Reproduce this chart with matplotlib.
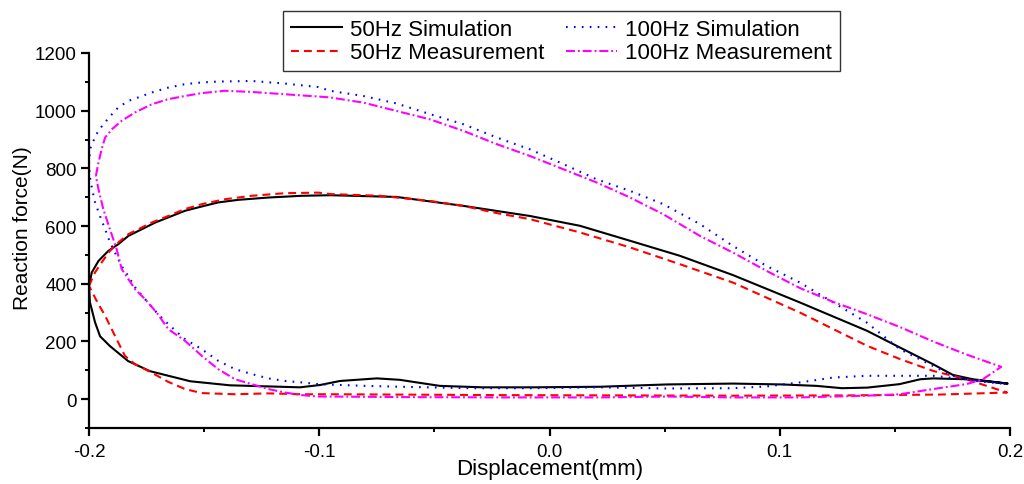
import matplotlib
matplotlib.use("Agg")
import matplotlib.pyplot as plt
from matplotlib.ticker import MultipleLocator, FormatStrFormatter

plt.rcParams['font.family'] = ['Liberation Sans', 'DejaVu Sans']

# ---- data (closed loops: loading branch then return branch) ----
sim50_x = [-0.2, -0.1988, -0.1959, -0.1916, -0.1873, -0.1829, -0.1771, -0.1713, -0.1656, -0.1583, -0.151,
           -0.1439, -0.1351, -0.122, -0.1076, -0.0953, -0.0664, -0.0374, -0.0085, 0.0132, 0.035, 0.0566,
           0.0797, 0.1088, 0.1379, 0.1522, 0.1666, 0.1752, 0.1839, 0.199,
           0.181, 0.1666, 0.161, 0.152, 0.138, 0.127, 0.116, 0.101, 0.0797, 0.051, 0.022,
           -0.0071, -0.029, -0.0476, -0.0576, -0.065, -0.075, -0.091, -0.0997, -0.1084, -0.1127,
           -0.1388, -0.156, -0.1735, -0.183, -0.1909, -0.1952, -0.1974, -0.1996, -0.2]
sim50_y = [393, 439, 479, 514, 537, 566, 589, 612, 630, 653, 668,
           682, 691, 699, 705, 707, 701, 670, 635, 601, 549, 497,
           430, 335, 237, 179, 121, 84, 69, 54,
           69, 72, 69, 52, 40, 38, 46, 51, 54, 51, 43,
           41, 41, 46, 58, 67, 72, 63, 49, 41, 42,
           48, 62, 97, 132, 184, 218, 267, 336, 393]

meas50_x = [-0.2, -0.1974, -0.1945, -0.1909, -0.1873, -0.1829, -0.1786, -0.1728, -0.1656, -0.1583, -0.151,
            -0.141, -0.1293, -0.115, -0.1004, -0.0953, -0.0736, -0.0519, -0.0374, -0.0229, -0.0085,
            0.0132, 0.035, 0.0566, 0.0797, 0.1088, 0.1379, 0.1522, 0.1666, 0.181, 0.1987,
            0.17, 0.13, 0.08, 0.03, -0.02, -0.07, -0.0932, -0.1076, -0.1223, -0.1366, -0.151, -0.1583,
            -0.1656, -0.1728, -0.18, -0.1844, -0.1887, -0.193, -0.1967, -0.2]
meas50_y = [393, 439, 474, 514, 543, 572, 589, 612, 635, 659, 676,
            693, 705, 714, 716, 711, 705, 687, 670, 645, 624,
            578, 526, 468, 404, 300, 185, 139, 98, 69, 23,
            16, 13, 12, 13, 14, 16, 17, 17, 20, 17, 21, 35,
            60, 92, 121, 150, 219, 289, 341, 393]

sim100_x = [-0.2, -0.1996, -0.1981, -0.196, -0.193, -0.19, -0.1873, -0.1829, -0.1786, -0.1728, -0.1656,
            -0.1583, -0.151, -0.1439, -0.1293, -0.1149, -0.1004, -0.0953, -0.0809, -0.0664, -0.0519,
            -0.0374, -0.0229, -0.0085, 0.006, 0.0205, 0.035, 0.0494, 0.0653, 0.0797, 0.0942, 0.1088,
            0.1233, 0.1377, 0.1522, 0.1666, 0.1753, 0.184, 0.1985,
            0.181, 0.1666, 0.1522, 0.1377, 0.1233, 0.1088, 0.0942, 0.0797, 0.0508, 0.0219,
            -0.0071, -0.035, -0.065, -0.08, -0.0939, -0.1004, -0.1076, -0.1149, -0.1221, -0.1293,
            -0.1366, -0.1439, -0.151, -0.1583, -0.1656, -0.1706, -0.1757, -0.18, -0.1829, -0.1858,
            -0.188, -0.1909, -0.193, -0.1952, -0.1974, -0.1988, -0.1996, -0.2]
sim100_y = [815, 866, 895, 930, 960, 988, 1011, 1034, 1046, 1063, 1080,
            1092, 1098, 1101, 1103, 1094, 1082, 1069, 1051, 1025, 988,
            953, 907, 866, 815, 762, 722, 676, 607, 531, 462, 404,
            335, 266, 173, 115, 81, 64, 52,
            69, 81, 81, 81, 75, 58, 44, 38, 37, 41,
            38, 38, 43, 46, 50, 52, 58, 63, 72, 87,
            104, 133, 173, 208, 260, 300, 347, 388, 426, 461,
            496, 544, 589, 634, 683, 735, 770, 815]

meas100_x = [-0.197, -0.1959, -0.1945, -0.193, -0.19, -0.1858, -0.18, -0.1728, -0.1656, -0.1583, -0.151,
             -0.141, -0.1293, -0.1149, -0.1004, -0.0953, -0.0809, -0.0664, -0.0519, -0.0374, -0.0229,
             -0.0085, 0.006, 0.0205, 0.035, 0.0494, 0.0566, 0.0653, 0.0797, 0.0942, 0.1088, 0.1233,
             0.1377, 0.1522, 0.1666, 0.181, 0.1962,
             0.1882, 0.181, 0.1666, 0.1522, 0.1377, 0.1233, 0.1088, 0.0797, 0.0508, 0.0219,
             -0.02, -0.06, -0.0939, -0.1004, -0.1076, -0.1149, -0.1221, -0.1293, -0.1366, -0.1439,
             -0.151, -0.1583, -0.1656, -0.1706, -0.1757, -0.18, -0.1858, -0.188, -0.1909, -0.1938,
             -0.1959, -0.197]
meas100_y = [774, 820, 867, 907, 936, 965, 994, 1022, 1040, 1051, 1061,
             1069, 1065, 1057, 1049, 1046, 1028, 999, 970, 930, 884,
             843, 797, 751, 699, 641, 607, 566, 508, 445, 385, 337,
             295, 250, 200, 155, 112,
             69, 52, 35, 17, 12, 9, 6, 6, 9, 6,
             6, 7, 9, 9, 14, 23, 35, 52, 69, 104,
             150, 202, 243, 300, 347, 381, 451, 520, 589, 659,
             728, 774]

labels = ["50Hz Simulation", "50Hz Measurement", "100Hz Simulation", "100Hz Measurement"]

# ---- figure ----
fig = plt.figure(figsize=(10.24, 4.85), dpi=100)
ax = fig.add_axes([89/1024, 1 - 429/485, (1010 - 89)/1024, (429 - 54)/485])

lw = 1.5
l1, = ax.plot(sim50_x, sim50_y, color='black', lw=lw, label=labels[0])
l2, = ax.plot(meas50_x, meas50_y, color='#ff0000', lw=lw, dashes=(3.8, 2.4), label=labels[1])
l3, = ax.plot(sim100_x, sim100_y, color='#0000ff', lw=lw, dashes=(0.8, 3.0), label=labels[2])
l4, = ax.plot(meas100_x, meas100_y, color='#ff00ff', lw=lw, dashes=(4.3, 1.4, 0.9, 1.4), label=labels[3])

ax.set_xlim(-0.2, 0.2)
ax.set_ylim(-100, 1200)
ax.xaxis.set_major_locator(MultipleLocator(0.1))
ax.xaxis.set_minor_locator(MultipleLocator(0.05))
ax.yaxis.set_minor_locator(MultipleLocator(100))
ax.set_yticks([0, 200, 400, 600, 800, 1000, 1200])
ax.xaxis.set_major_formatter(FormatStrFormatter('%.1f'))

for s in ['top', 'right']:
    ax.spines[s].set_visible(False)
for s in ['left', 'bottom']:
    ax.spines[s].set_linewidth(1.6)

ax.tick_params(which='major', direction='out', length=6, width=1.6, labelsize=13.5)
ax.tick_params(axis='x', which='major', pad=4.5)
ax.tick_params(axis='y', which='major', pad=3)
ax.tick_params(which='minor', direction='out', length=3.2, width=1.4)

ax.set_xlabel("Displacement(mm)", fontsize=16, labelpad=-1)
ax.set_ylabel("Reaction force(N)", fontsize=15)
ax.yaxis.set_label_coords((32 - 89) / 921, (429 - 228) / 375)

leg = fig.legend(handles=[l1, l2, l3, l4], loc='upper left',
                 bbox_to_anchor=(283/1024, 1 - 12/485), ncol=2, fontsize=16,
                 frameon=True, fancybox=False, edgecolor='#333333', framealpha=1,
                 handlelength=2.3, handletextpad=0.35, columnspacing=1.0,
                 borderpad=0.35, labelspacing=0.12, borderaxespad=0)
leg.get_frame().set_linewidth(1.0)

fig.savefig("out.png", dpi=100)
